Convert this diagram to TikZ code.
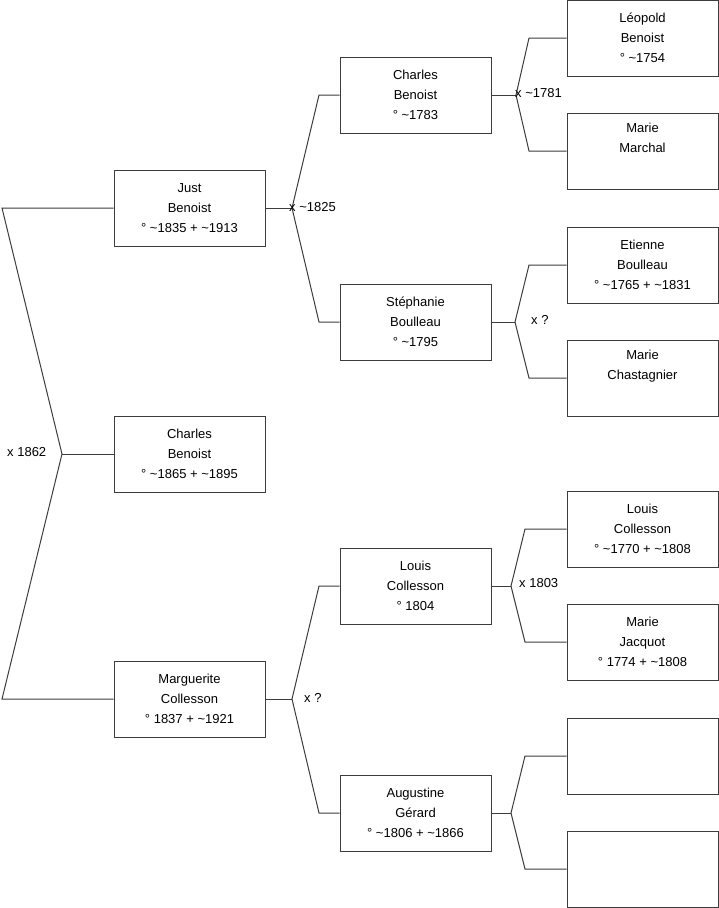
\documentclass[tikz,border=0pt]{standalone}
\usepackage{fontspec}
\setmainfont{Liberation Sans}
\definecolor{lc}{HTML}{3C3C3C}
\tikzset{
  pbox/.style={draw=lc, line width=1pt, minimum width=151pt, minimum height=76pt,
    inner sep=0pt, align=center, font=\fontsize{13}{20}\selectfont},
  conn/.style={draw=lc, line width=1pt},
  mlab/.style={anchor=west, inner sep=0pt, font=\fontsize{13}{14}\selectfont}
}
\begin{document}
\begin{tikzpicture}[x=1pt,y=-1pt]
\useasboundingbox (0,0) rectangle (719,908);
% generation 1
\node[pbox] (just) at (189.5,208) {Just\\Benoist\\° \textasciitilde1835 + \textasciitilde1913};
\node[pbox] (child) at (189.5,454) {Charles\\Benoist\\° \textasciitilde1865 + \textasciitilde1895};
\node[pbox] (marg) at (189.5,699) {Marguerite\\Collesson\\° 1837 + \textasciitilde1921};
% generation 2
\node[pbox] (cb) at (415.5,95) {Charles\\Benoist\\° \textasciitilde1783};
\node[pbox] (sb) at (415.5,322) {Stéphanie\\Boulleau\\° \textasciitilde1795};
\node[pbox] (lc2) at (415.5,586) {Louis\\Collesson\\° 1804};
\node[pbox] (ag) at (415.5,813) {Augustine\\Gérard\\° \textasciitilde1806 + \textasciitilde1866};
% generation 3
\node[pbox] (lb) at (642.5,38) {Léopold\\Benoist\\° \textasciitilde1754};
\node[pbox] (mm) at (642.5,151) {Marie\\Marchal\\\strut};
\node[pbox] (eb) at (642.5,265) {Etienne\\Boulleau\\° \textasciitilde1765 + \textasciitilde1831};
\node[pbox] (mc) at (642.5,378) {Marie\\Chastagnier\\\strut};
\node[pbox] (lc3) at (642.5,529) {Louis\\Collesson\\° \textasciitilde1770 + \textasciitilde1808};
\node[pbox] (mj) at (642.5,642) {Marie\\Jacquot\\° 1774 + \textasciitilde1808};
\node[pbox] (e1) at (642.5,756) {};
\node[pbox] (e2) at (642.5,869) {};
% junction coordinates
\coordinate (l1) at (2,208);
\coordinate (l2) at (2,699);
\coordinate (j0) at (62,454);
\coordinate (j1) at (292,208);
\coordinate (j1a) at (319,95);
\coordinate (j1b) at (319,322);
\coordinate (j2) at (292,699);
\coordinate (j2a) at (319,586);
\coordinate (j2b) at (319,813);
\coordinate (k1) at (516,95);
\coordinate (k1a) at (529,38);
\coordinate (k1b) at (529,151);
\coordinate (k2) at (515,322);
\coordinate (k2a) at (529,265);
\coordinate (k2b) at (529,378);
\coordinate (k3) at (511,586);
\coordinate (k3a) at (525,529);
\coordinate (k3b) at (525,642);
\coordinate (k4) at (511,813);
\coordinate (k4a) at (525,756);
\coordinate (k4b) at (525,869);
% connectors
\draw[conn] (just.west) -- (l1) -- (j0) -- (l2) -- (marg.west);
\draw[conn] (j0) -- (child.west);
\draw[conn] (just.east) -- (j1);
\draw[conn] (cb.west) -- (j1a) -- (j1) -- (j1b) -- (sb.west);
\draw[conn] (marg.east) -- (j2);
\draw[conn] (lc2.west) -- (j2a) -- (j2) -- (j2b) -- (ag.west);
\draw[conn] (cb.east) -- (k1);
\draw[conn] (lb.west) -- (k1a) -- (k1) -- (k1b) -- (mm.west);
\draw[conn] (sb.east) -- (k2);
\draw[conn] (eb.west) -- (k2a) -- (k2) -- (k2b) -- (mc.west);
\draw[conn] (lc2.east) -- (k3);
\draw[conn] (lc3.west) -- (k3a) -- (k3) -- (k3b) -- (mj.west);
\draw[conn] (ag.east) -- (k4);
\draw[conn] (e1.west) -- (k4a) -- (k4) -- (k4b) -- (e2.west);
% marriage labels
\node[mlab] (m0) at (7,452) {x 1862};
\node[mlab] (m1) at (289,207) {x \textasciitilde1825};
\node[mlab] (m2) at (304,698) {x ?};
\node[mlab] (m3) at (515,93) {x \textasciitilde1781};
\node[mlab] (m4) at (531,320) {x ?};
\node[mlab] (m5) at (519,583) {x 1803};
\end{tikzpicture}
\end{document}
